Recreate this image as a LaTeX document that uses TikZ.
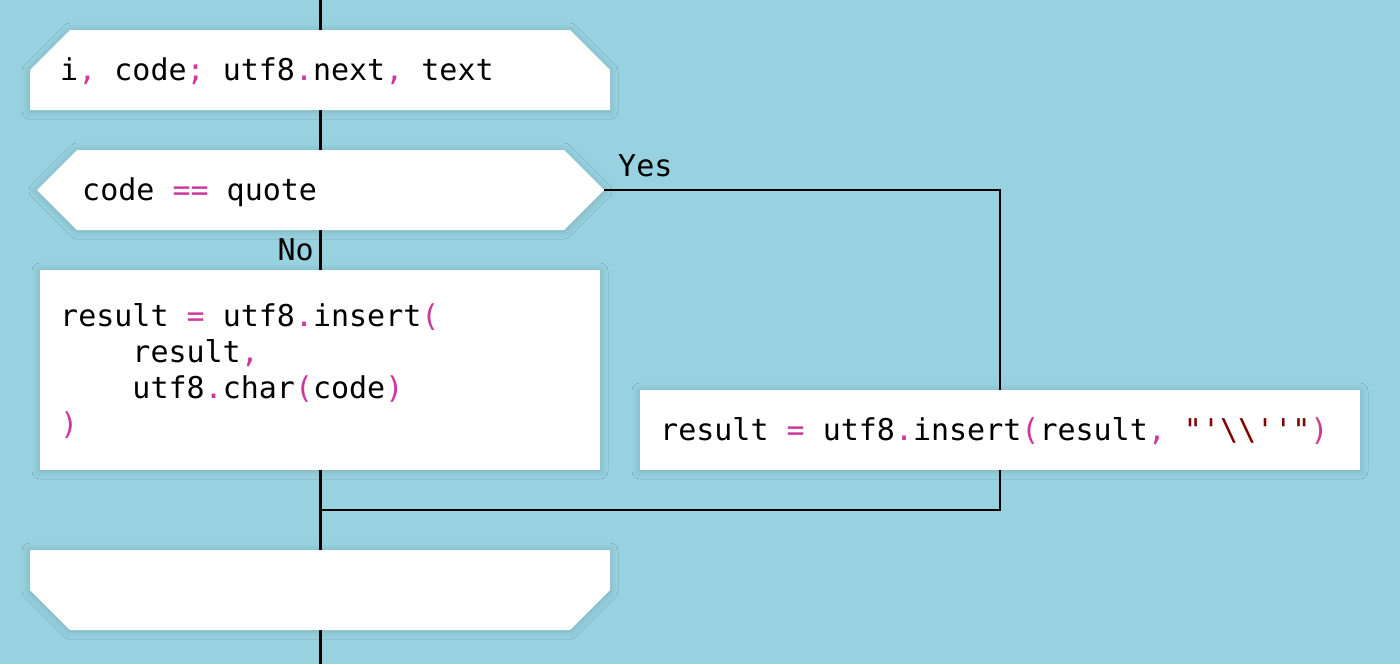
\documentclass[tikz,border=0pt]{standalone}
\usepackage{fontspec}
\usetikzlibrary{calc,shadows.blur}
\newfontfamily\codefont{DejaVu Sans Mono}
\definecolor{BackClr}{RGB}{152,210,224}
\definecolor{PunctClr}{RGB}{206,55,155}
\definecolor{StrClr}{RGB}{128,0,0}
\newcommand\punc[1]{\textcolor{PunctClr}{#1}}
\newcommand\strg[1]{\textcolor{StrClr}{#1}}

\begin{document}
\begin{tikzpicture}[x=1pt,y=-1pt,
  blockfill/.style={fill=white,blur shadow={shadow xshift=0pt,shadow yshift=-1pt,
      shadow blur radius=8pt,shadow opacity=18}},
  codebox/.style={blockfill,rectangle,inner sep=0pt},
  codetext/.style={font=\codefont\fontsize{30}{36}\selectfont,inner sep=0pt,
      anchor=base west,align=left},
  mainline/.style={line width=3pt,black},
  branch/.style={line width=1.5pt,black}]

\fill[BackClr] (0,0) rectangle (1400,664);
\useasboundingbox (0,0) rectangle (1400,664);

\coordinate (top) at (320,0);
\coordinate (bot) at (320,664);
\coordinate (join) at (320,510);
\draw[mainline] (top) -- (bot);

% loop start
\path[blockfill] (30,110) -- (30,70) -- (70,30) -- (570,30) -- (610,70) -- (610,110) -- cycle;
\node[codetext] (loophead) at (60,80)
  {i\punc{,} code\punc{;} utf8\punc{.}next\punc{,} text};

% decision
\path[blockfill] (37,190) -- (77,150) -- (564,150) -- (604,190) -- (564,230) -- (77,230) -- cycle;
\coordinate (yesout) at (604,190);
\node[codetext] (cond) at (82,200) {code \punc{==} quote};
\node[codetext] (yes) at (618,176) {Yes};
\node[codetext,anchor=base east] (no) at (314,260) {No};

% branches
\node[codebox,minimum width=560pt,minimum height=200pt] (body) at (320,370) {};
\node[codetext] (bodytxt) at (60,434)
  {result \punc{=} utf8\punc{.}insert\punc{(}\\
   \phantom{xxxx}result\punc{,}\\
   \phantom{xxxx}utf8\punc{.}char\punc{(}code\punc{)}\\
   \punc{)}};

\node[codebox,minimum width=720pt,minimum height=80pt] (other) at (1000,430) {};
\node[codetext] (othertxt) at (660,440)
  {result \punc{=} utf8\punc{.}insert\punc{(}result\punc{,} \strg{"'\textbackslash\textbackslash''"}\punc{)}};

\draw[branch] (yesout) -| (other.north);
\draw[branch] (other.south) |- (join);

% loop end
\path[blockfill] (30,550) -- (610,550) -- (610,590) -- (570,630) -- (70,630) -- (30,590) -- cycle;

\end{tikzpicture}
\end{document}
